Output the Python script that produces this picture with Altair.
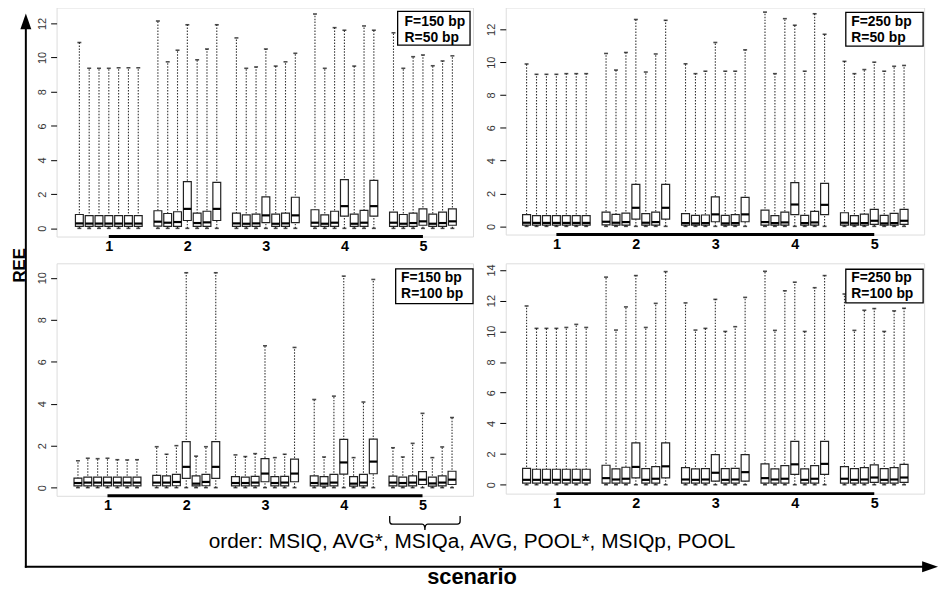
import altair as alt
import pandas as pd

FONT = "Liberation Sans"

scenarios = [1, 2, 3, 4, 5]
methods = ["MSIQ", "AVG*", "MSIQa", "AVG", "POOL*", "MSIQp", "POOL"]

# ---- values (7 methods per scenario, 5 scenarios) ----
p1_hi = [10.88, 9.37, 9.37, 9.37, 9.40, 9.40, 9.40,
         12.14, 9.75, 10.43, 11.92, 9.87, 10.50, 11.92,
         11.15, 9.37, 9.45, 10.50, 9.50, 9.75, 10.25,
         12.55, 9.37, 11.75, 11.60, 9.50, 11.85, 11.60,
         11.45, 9.37, 10.05, 10.15, 9.52, 9.80, 10.10]
p1_q3 = [0.81, 0.75, 0.75, 0.75, 0.75, 0.75, 0.75,
         1.03, 0.87, 0.97, 2.73, 0.89, 1.00, 2.69,
         0.89, 0.79, 0.83, 1.84, 0.83, 0.89, 1.82,
         1.09, 0.79, 1.00, 2.85, 0.83, 1.05, 2.81,
         0.95, 0.81, 0.89, 1.14, 0.83, 0.95, 1.14]
p1_med = [0.29, 0.28, 0.28, 0.28, 0.28, 0.28, 0.28,
          0.39, 0.33, 0.37, 1.14, 0.31, 0.35, 1.14,
          0.29, 0.27, 0.29, 0.76, 0.27, 0.29, 0.76,
          0.33, 0.27, 0.33, 1.30, 0.27, 0.33, 1.30,
          0.33, 0.27, 0.31, 0.41, 0.27, 0.31, 0.41]
p1_q1 = [0.12, 0.12, 0.12, 0.12, 0.12, 0.12, 0.12,
         0.13, 0.12, 0.12, 0.46, 0.12, 0.12, 0.46,
         0.12, 0.11, 0.12, 0.33, 0.11, 0.12, 0.33,
         0.12, 0.11, 0.12, 0.72, 0.11, 0.12, 0.71,
         0.12, 0.11, 0.12, 0.18, 0.11, 0.12, 0.18]
p1_lo = [0.0, 0.0, 0.0, 0.0, 0.0, 0.0, 0.0,
         0.0, 0.0, 0.0, 0.0, 0.0, 0.0, 0.0,
         0.0, 0.0, 0.0, 0.0, 0.0, 0.0, 0.0,
         0.0, 0.0, 0.0, 0.0, 0.0, 0.0, 0.0,
         0.0, 0.0, 0.0, 0.0, 0.0, 0.0, 0.0]

p2_hi = [9.89, 9.26, 9.26, 9.26, 9.30, 9.30, 9.30,
         10.53, 9.52, 10.59, 12.60, 9.40, 10.50, 12.55,
         9.90, 9.30, 9.45, 11.20, 9.45, 9.45, 10.75,
         13.05, 9.30, 12.65, 12.25, 9.45, 12.95, 11.70,
         10.05, 9.30, 9.55, 10.00, 9.45, 9.75, 9.80]
p2_q3 = [0.71, 0.65, 0.65, 0.65, 0.65, 0.65, 0.65,
         0.87, 0.73, 0.81, 2.56, 0.77, 0.87, 2.56,
         0.77, 0.67, 0.69, 1.79, 0.67, 0.71, 1.77,
         0.99, 0.65, 0.87, 2.66, 0.67, 0.91, 2.62,
         0.83, 0.65, 0.75, 1.03, 0.67, 0.79, 1.03]
p2_med = [0.22, 0.21, 0.21, 0.21, 0.21, 0.21, 0.21,
          0.28, 0.22, 0.26, 1.13, 0.22, 0.26, 1.13,
          0.20, 0.18, 0.20, 0.73, 0.18, 0.20, 0.73,
          0.26, 0.20, 0.24, 1.33, 0.20, 0.24, 1.31,
          0.22, 0.18, 0.20, 0.34, 0.18, 0.20, 0.34]
p2_q1 = [0.08, 0.08, 0.08, 0.08, 0.08, 0.08, 0.08,
         0.09, 0.08, 0.08, 0.44, 0.08, 0.08, 0.44,
         0.08, 0.07, 0.08, 0.28, 0.07, 0.08, 0.28,
         0.08, 0.07, 0.08, 0.71, 0.07, 0.08, 0.71,
         0.08, 0.07, 0.08, 0.12, 0.07, 0.08, 0.12]
p2_lo = [0.0, 0.0, 0.0, 0.0, 0.0, 0.0, 0.0,
         0.0, 0.0, 0.0, 0.0, 0.0, 0.0, 0.0,
         0.0, 0.0, 0.0, 0.0, 0.0, 0.0, 0.0,
         0.0, 0.0, 0.0, 0.0, 0.0, 0.0, 0.0,
         0.0, 0.0, 0.0, 0.0, 0.0, 0.0, 0.0]

p3_hi = [1.28, 1.40, 1.38, 1.40, 1.33, 1.32, 1.33,
         1.95, 1.59, 2.00, 10.24, 1.50, 1.95, 10.24,
         1.56, 1.48, 1.62, 6.76, 1.43, 1.59, 6.68,
         4.20, 1.46, 4.36, 10.08, 1.43, 4.08, 9.92,
         1.90, 1.46, 2.11, 3.54, 1.43, 1.94, 3.34]
p3_q3 = [0.45, 0.50, 0.50, 0.50, 0.50, 0.50, 0.50,
         0.58, 0.56, 0.63, 2.19, 0.56, 0.63, 2.19,
         0.52, 0.50, 0.54, 1.38, 0.52, 0.54, 1.36,
         0.56, 0.52, 0.63, 2.30, 0.52, 0.63, 2.31,
         0.55, 0.50, 0.56, 0.76, 0.50, 0.56, 0.78]
p3_med = [0.22, 0.24, 0.24, 0.24, 0.24, 0.24, 0.24,
          0.24, 0.24, 0.27, 0.99, 0.19, 0.27, 0.99,
          0.22, 0.22, 0.24, 0.67, 0.22, 0.24, 0.67,
          0.22, 0.19, 0.24, 1.20, 0.19, 0.24, 1.24,
          0.24, 0.22, 0.24, 0.38, 0.20, 0.24, 0.38]
p3_q1 = [0.08, 0.08, 0.08, 0.08, 0.08, 0.08, 0.08,
         0.09, 0.08, 0.09, 0.44, 0.08, 0.09, 0.44,
         0.08, 0.08, 0.08, 0.28, 0.08, 0.08, 0.28,
         0.08, 0.07, 0.08, 0.64, 0.07, 0.08, 0.66,
         0.08, 0.07, 0.08, 0.15, 0.07, 0.08, 0.15]
p3_lo = [0.0, 0.0, 0.0, 0.0, 0.0, 0.0, 0.0,
         0.0, 0.0, 0.0, 0.0, 0.0, 0.0, 0.0,
         0.0, 0.0, 0.0, 0.0, 0.0, 0.0, 0.0,
         0.0, 0.0, 0.0, 0.0, 0.0, 0.0, 0.0,
         0.0, 0.0, 0.0, 0.0, 0.0, 0.0, 0.0]

p4_hi = [11.65, 10.19, 10.19, 10.19, 10.25, 10.45, 10.25,
         13.53, 10.08, 11.59, 13.63, 10.25, 11.82, 13.89,
         11.85, 10.08, 10.19, 12.08, 9.99, 10.30, 12.21,
         13.91, 10.06, 12.64, 13.20, 9.99, 12.84, 13.63,
         12.43, 10.06, 11.37, 11.48, 9.99, 11.33, 11.50]
p4_q3 = [1.07, 1.01, 1.01, 1.01, 1.01, 1.01, 1.01,
         1.27, 1.03, 1.14, 2.73, 1.05, 1.18, 2.73,
         1.12, 1.03, 1.05, 1.96, 1.05, 1.07, 1.96,
         1.36, 1.03, 1.25, 2.82, 1.03, 1.25, 2.82,
         1.18, 1.05, 1.12, 1.29, 1.05, 1.12, 1.33]
p4_med = [0.32, 0.32, 0.32, 0.32, 0.32, 0.32, 0.32,
          0.43, 0.34, 0.39, 1.16, 0.32, 0.39, 1.20,
          0.34, 0.32, 0.34, 0.78, 0.32, 0.34, 0.82,
          0.43, 0.34, 0.39, 1.33, 0.32, 0.39, 1.36,
          0.39, 0.32, 0.34, 0.47, 0.32, 0.34, 0.47]
p4_q1 = [0.10, 0.10, 0.10, 0.10, 0.10, 0.10, 0.10,
         0.11, 0.10, 0.10, 0.45, 0.10, 0.10, 0.45,
         0.10, 0.10, 0.10, 0.24, 0.10, 0.10, 0.24,
         0.11, 0.10, 0.10, 0.67, 0.10, 0.10, 0.67,
         0.10, 0.10, 0.10, 0.15, 0.10, 0.10, 0.15]
p4_lo = [0.0, 0.0, 0.0, 0.0, 0.0, 0.0, 0.0,
         0.0, 0.0, 0.0, 0.0, 0.0, 0.0, 0.0,
         0.0, 0.0, 0.0, 0.0, 0.0, 0.0, 0.0,
         0.0, 0.0, 0.0, 0.0, 0.0, 0.0, 0.0,
         0.0, 0.0, 0.0, 0.0, 0.0, 0.0, 0.0]

legend_text = {
    "p1": "F=150 bp\nR=50 bp",
    "p2": "F=250 bp\nR=50 bp",
    "p3": "F=150 bp\nR=100 bp",
    "p4": "F=250 bp\nR=100 bp",
}
order_text = "order: MSIQ, AVG*, MSIQa, AVG, POOL*, MSIQp, POOL"
x_title = "scenario"
y_title = "REE"

series = {
    "p1": (p1_lo, p1_q1, p1_med, p1_q3, p1_hi),
    "p2": (p2_lo, p2_q1, p2_med, p2_q3, p2_hi),
    "p3": (p3_lo, p3_q1, p3_med, p3_q3, p3_hi),
    "p4": (p4_lo, p4_q1, p4_med, p4_q3, p4_hi),
}

rows = []
for key, (lo, q1, med, q3, hi) in series.items():
    for i in range(len(lo)):
        rows.append(dict(panel=key, scenario=scenarios[i // 7], m=i % 7,
                         method=methods[i % 7], lo=lo[i], q1=q1[i],
                         med=med[i], q3=q3[i], hi=hi[i]))
df = pd.DataFrame(rows)

# ---- layout (pixels) ----
geom = {
    "p1": dict(w=420, h=231, xdom=[-2.32, 40.1], ydom=[-0.48, 12.93],
               yt=[0, 2, 4, 6, 8, 10, 12], leg=(344, 417, 4, 38), lx=351, ly=14.5),
    "p2": dict(w=422, h=229, xdom=[-2.1, 40.02], ydom=[-0.5, 13.33],
               yt=[0, 2, 4, 6, 8, 10, 12], leg=(343, 421, 5, 39), lx=348.5, ly=14.2),
    "p3": dict(w=420, h=234.5, xdom=[-2.17, 40.13], ydom=[-0.39, 10.69],
               yt=[0, 2, 4, 6, 8, 10], leg=(342, 420, 5.7, 40.7), lx=347.5, ly=14.6),
    "p4": dict(w=422, h=232.3, xdom=[-2.1, 40.02], ydom=[-0.58, 14.43],
               yt=[0, 2, 4, 6, 8, 10, 12, 14], leg=(343, 421, 6, 40), lx=348.5, ly=14.4),
}

one = pd.DataFrame({"k": [0]})


def make_panel(key, extra=None):
    g = geom[key]
    xs = alt.Scale(domain=g["xdom"], nice=False, zero=False)
    ys = alt.Scale(domain=g["ydom"], nice=False, zero=False)
    xaxis = alt.Axis(values=[3, 11, 19, 27, 35],
                     labelExpr="format((datum.value+5)/8, 'd')",
                     ticks=False, domain=False, grid=False, title=None,
                     labelFontWeight="bold", labelFontSize=14.5, labelPadding=3,
                     labelColor="black", labelFont=FONT)
    yaxis = alt.Axis(values=g["yt"], labelAngle=-90, grid=False, domain=False,
                     tickSize=6, tickColor="black", tickWidth=1,
                     labelFontSize=11, labelColor="#333", labelPadding=3,
                     title=None, labelFont=FONT)
    base = (alt.Chart(df)
            .transform_filter(alt.datum.panel == key)
            .transform_calculate(slot="(datum.scenario-1)*8+datum.m")
            .transform_calculate(xl="datum.slot-0.4", xr="datum.slot+0.4",
                                 center="(datum.scenario-1)*8+3"))
    X = alt.X("slot:Q", scale=xs, axis=xaxis)
    whisk = base.mark_rule(strokeDash=[1.5, 1.5], strokeWidth=1.1, color="#333").encode(
        x=X, y=alt.Y("lo:Q", scale=ys, axis=yaxis), y2="hi:Q")
    cap_hi = base.mark_tick(orient="horizontal", size=4, thickness=1.6, color="black").encode(
        x=X, y=alt.Y("hi:Q", scale=ys, axis=yaxis))
    cap_lo = base.mark_tick(orient="horizontal", size=4, thickness=1.6, color="black").encode(
        x=X, y=alt.Y("lo:Q", scale=ys, axis=yaxis))
    box = base.mark_rect(fill="white", stroke="#222", strokeWidth=1.2).encode(
        x=alt.X("xl:Q", scale=xs, axis=xaxis), x2="xr:Q",
        y=alt.Y("q1:Q", scale=ys, axis=yaxis), y2="q3:Q")
    med = base.mark_rule(strokeWidth=2.2, color="black").encode(
        x=alt.X("xl:Q", scale=xs, axis=xaxis), x2="xr:Q",
        y=alt.Y("med:Q", scale=ys, axis=yaxis))
    axline = base.mark_rule(strokeWidth=3, color="black").encode(
        x=alt.X("min(center):Q", scale=xs, axis=xaxis), x2="max(center)",
        y=alt.value(g["h"]))
    x0, x1, y0, y1 = g["leg"]
    legdf = pd.DataFrame({"label": [legend_text[key]]})
    legbox = alt.Chart(legdf).mark_rect(fill="white", stroke="black", strokeWidth=1.3).encode(
        x=alt.value(x0), x2=alt.value(x1), y=alt.value(y0), y2=alt.value(y1))
    legtxt = alt.Chart(legdf).mark_text(align="left", baseline="middle", font=FONT,
                                        fontWeight="bold", fontSize=14, lineBreak="\n",
                                        lineHeight=16.5, color="black").encode(
        x=alt.value(g["lx"]), y=alt.value(g["ly"]), text="label:N")
    layers = [whisk, box, med, cap_hi, cap_lo, axline, legbox, legtxt]
    if extra:
        layers += extra
    return alt.layer(*layers).properties(width=g["w"], height=g["h"])


# decorations outside the panels, positioned relative to the bottom-left panel
tdf = pd.DataFrame({"order": [order_text], "xt": [x_title], "yt": [y_title]})
anchor = alt.Chart(one).mark_rule(strokeOpacity=0, strokeWidth=0.1).encode(
    x=alt.value(-60), y=alt.value(0), y2=alt.value(10))
vline = alt.Chart(one).mark_rule(strokeWidth=2, color="black").encode(
    x=alt.value(-31), y=alt.value(307), y2=alt.value(-240))
hline = alt.Chart(one).mark_rule(strokeWidth=2, color="black").encode(
    x=alt.value(-32), x2=alt.value(878), y=alt.value(306))
uphead = alt.Chart(one).mark_point(shape="M0,-1L0.69,1L-0.69,1Z", size=256, filled=True,
                                   color="black", opacity=1).encode(
    x=alt.value(-31), y=alt.value(-244))
rthead = alt.Chart(one).mark_point(shape="M1,0L-1,0.69L-1,-0.69Z", size=256, filled=True,
                                   color="black", opacity=1).encode(
    x=alt.value(881), y=alt.value(306))
brace = alt.Chart(one).mark_point(
    shape="M-1,-0.2L-1,-0.05Q-1,0.03 -0.92,0.03L-0.08,0.03Q0,0.03 0,0.2Q0,0.03 0.08,0.03L0.92,0.03Q1,0.03 1,-0.05L1,-0.2",
    size=5041, filled=False, stroke="black", strokeWidth=1.3, opacity=1).encode(
    x=alt.value(371.5), y=alt.value(262))
order_mark = alt.Chart(tdf).mark_text(font=FONT, fontSize=21, color="black",
                                      align="center", baseline="middle").encode(
    x=alt.value(419), y=alt.value(281), text="order:N")
xt_mark = alt.Chart(tdf).mark_text(font=FONT, fontSize=22, fontWeight="bold", color="black",
                                   align="center", baseline="middle").encode(
    x=alt.value(419), y=alt.value(316), text="xt:N")
yt_mark = alt.Chart(tdf).mark_text(font=FONT, fontSize=17, fontWeight="bold", color="black",
                                   align="center", baseline="middle", angle=270).encode(
    x=alt.value(-36.5), y=alt.value(2), text="yt:N")

extra = [anchor, vline, hline, uphead, rthead, brace, order_mark, xt_mark, yt_mark]

p1 = make_panel("p1")
p2 = make_panel("p2")
p3 = make_panel("p3", extra)
p4 = make_panel("p4")

chart = alt.concat(p1, p2, p3, p4, columns=2, spacing={"row": 27, "column": 33},
                   bounds="flush").properties(
    padding={"left": -12, "top": -4, "right": 0, "bottom": 0}).configure_view(
    stroke="black", strokeWidth=1.2).configure(background="white")

chart.save("out.html", embed_options={"renderer": "svg", "actions": False})
